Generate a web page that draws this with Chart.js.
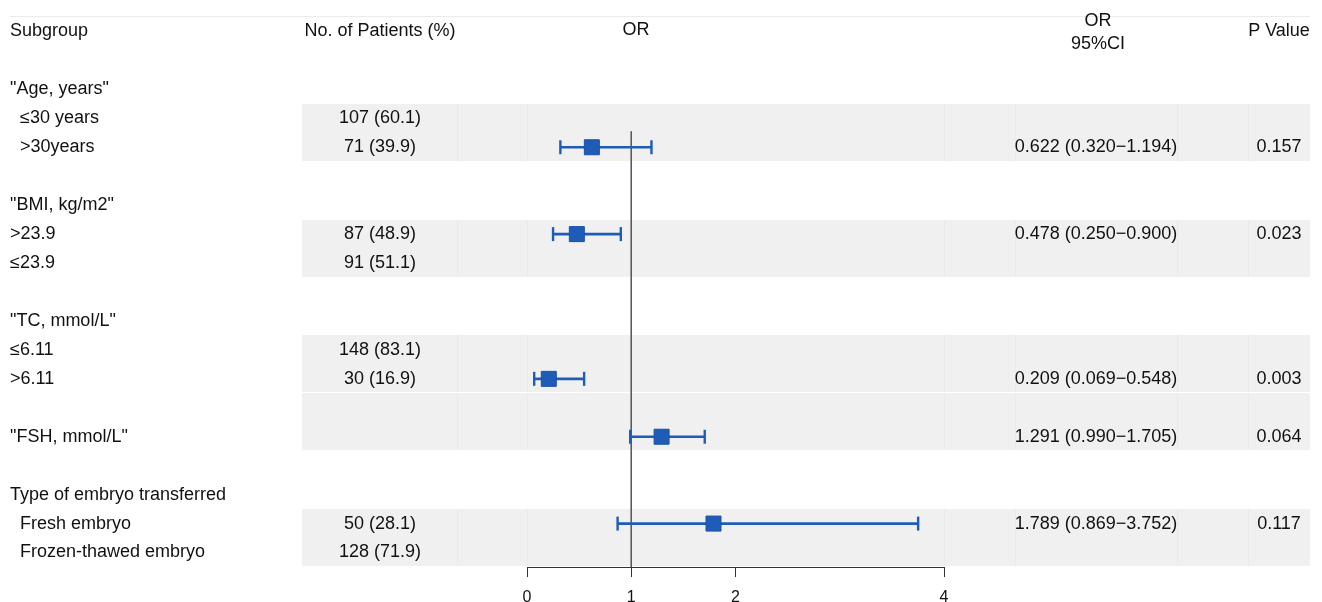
<!DOCTYPE html>
<html>
<head>
<meta charset="utf-8">
<script src="https://cdn.jsdelivr.net/npm/chart.js@4"></script>
<style>
  body { margin: 0; background: #fff; }
  #wrap { position: relative; width: 1322px; height: 602px; }
</style>
</head>
<body>
<div id="wrap"><canvas id="chart"></canvas></div>
<script>
// table rows, starting at row 2 (row 0 is the header)
const subgroups = [
  '"Age, years"', '  ≤30 years', '  >30years', '',
  '"BMI, kg/m2"', '>23.9', '≤23.9', '',
  '"TC, mmol/L"', '≤6.11', '>6.11', '',
  '"FSH, mmol/L"', '',
  'Type of embryo transferred', '  Fresh embryo', '  Frozen-thawed embryo'
];
const patients = [
  '', '107 (60.1)', '71 (39.9)', '',
  '', '87 (48.9)', '91 (51.1)', '',
  '', '148 (83.1)', '30 (16.9)', '',
  '', '',
  '', '50 (28.1)', '128 (71.9)'
];

// rows that carry an estimate
const estLabels = ['  >30years', '>23.9', '>6.11', '"FSH, mmol/L"', '  Fresh embryo'];
const orValues = [0.622, 0.478, 0.209, 1.291, 1.789];
const ciLower = [0.320, 0.250, 0.069, 0.990, 0.869];
const ciUpper = [1.194, 0.900, 0.548, 1.705, 3.752];
const pValues = ['0.157', '0.023', '0.003', '0.064', '0.117'];

const xTicks = [0, 1, 2, 4];
const refValue = 1;

const firstRow = 2;
const lastRow = firstRow + subgroups.length - 1;
const rowOf = (label) => subgroups.indexOf(label) + firstRow;

// layout
const bandRows = [[3, 4], [7, 8], [11, 12], [13, 14], [17, 18]];
const tableLeft = 302, tableRight = 1310;
const separators = [457, 527, 944, 1015, 1177, 1248];
const blue = "#1f5cb8";
const font = '18px "Liberation Sans", Arial, sans-serif';

function ciText(i) {
  return orValues[i].toFixed(3) + " (" + ciLower[i].toFixed(3) + "\u2212" + ciUpper[i].toFixed(3) + ")";
}

const tablePlugin = {
  id: "tableText",
  beforeDraw(chart) {
    const ctx = chart.ctx;
    const y = chart.scales.y;
    const rowH = Math.abs(y.getPixelForValue(1) - y.getPixelForValue(0));
    ctx.save();
    ctx.strokeStyle = "#ebebeb";
    ctx.lineWidth = 1;
    ctx.beginPath();
    ctx.moveTo(10, 16.5);
    ctx.lineTo(tableRight, 16.5);
    ctx.stroke();
    bandRows.forEach(([a, b]) => {
      const top = Math.round(y.getPixelForValue(a) - rowH / 2);
      const bottom = Math.round(y.getPixelForValue(b) + rowH / 2) - 1;
      ctx.fillStyle = "#f0f0f0";
      ctx.fillRect(tableLeft, top, tableRight - tableLeft, bottom - top);
      ctx.fillStyle = "#eaeaea";
      separators.forEach((sx) => ctx.fillRect(sx, top, 1, bottom - top));
    });
    ctx.restore();
  },
  afterDraw(chart) {
    const ctx = chart.ctx;
    const y = chart.scales.y;
    const y0 = y.getPixelForValue(0);
    ctx.save();
    ctx.font = font;
    ctx.fillStyle = "#111";
    ctx.textBaseline = "middle";

    // header
    ctx.textAlign = "left";
    ctx.fillText("Subgroup", 10, y0);
    ctx.textAlign = "center";
    ctx.fillText("No. of Patients (%)", 380, y0);
    ctx.fillText("OR", 636, y0 - 1);
    ctx.fillText("OR", 1098, y0 - 10);
    ctx.fillText("95%CI", 1098, y0 + 13);
    ctx.fillText("P Value", 1279, y0);

    subgroups.forEach((s, i) => {
      const py = y.getPixelForValue(i + firstRow);
      ctx.textAlign = "left";
      ctx.fillText(s, 10, py);
      ctx.textAlign = "center";
      if (patients[i]) ctx.fillText(patients[i], 380, py);
    });

    estLabels.forEach((lab, i) => {
      const py = y.getPixelForValue(rowOf(lab));
      ctx.textAlign = "center";
      ctx.fillText(ciText(i), 1096, py);
      ctx.fillText(pValues[i], 1279, py);
    });
    ctx.restore();
  },
};

const squares = {
  type: "scatter",
  data: estLabels.map((lab, i) => ({ x: orValues[i], y: rowOf(lab) })),
  pointStyle: "rect",
  pointRadius: 10.6,
  pointHoverRadius: 10.6,
  backgroundColor: blue,
  borderColor: "#1a50a8",
  borderWidth: 1,
};

const ciLines = estLabels.map((lab, i) => ({
  type: "line",
  data: [
    { x: ciLower[i], y: rowOf(lab) },
    { x: ciUpper[i], y: rowOf(lab) },
  ],
  borderColor: blue,
  borderWidth: 2.7,
  pointStyle: "line",
  rotation: 90,
  pointRadius: 7,
  pointHoverRadius: 7,
  pointBorderColor: blue,
  pointBorderWidth: 2.4,
  clip: false,
}));

const refLine = {
  type: "line",
  data: [
    { x: refValue, y: 3.45 },
    { x: refValue, y: lastRow + 0.5 },
  ],
  borderColor: "#5a5a5a",
  borderWidth: 1,
  pointRadius: 0,
  clip: false,
};

const options = {
  responsive: true,
  maintainAspectRatio: false,
  animation: false,
  events: [],
  layout: {
    padding: { left: 527, right: 1322 - 944, top: 17, bottom: 0 },
  },
  plugins: {
    legend: { display: false },
    tooltip: { enabled: false },
  },
  scales: {
    x: {
      type: "linear",
      min: 0,
      max: 4,
      afterBuildTicks: (scale) => {
        scale.ticks = xTicks.map((v) => ({ value: v }));
      },
      afterFit: (scale) => {
        scale.height = 35;
      },
      grid: {
        display: true,
        drawOnChartArea: false,
        drawTicks: true,
        tickLength: 10,
        tickColor: "#333",
      },
      border: { display: true, color: "#333", width: 1 },
      ticks: {
        padding: 11,
        color: "#111",
        font: { family: '"Liberation Sans", Arial, sans-serif', size: 16 },
      },
    },
    y: {
      type: "linear",
      reverse: true,
      min: -0.5,
      max: lastRow + 0.5,
      display: false,
    },
  },
};

var chart = new Chart(document.getElementById("chart").getContext("2d"), {
  type: "scatter",
  data: { datasets: [squares, ...ciLines, refLine] },
  options: options,
  plugins: [tablePlugin],
});
</script>
</body>
</html>
